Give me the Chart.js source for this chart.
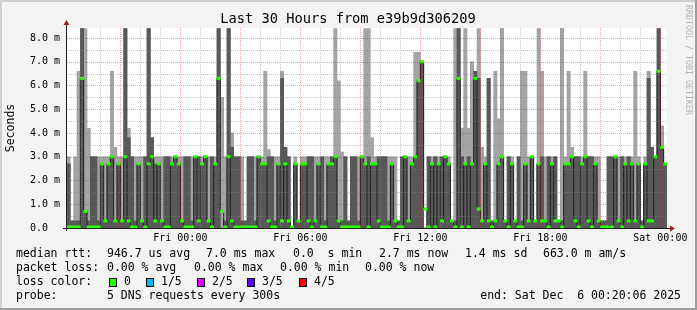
<!DOCTYPE html>
<html>
<head>
<meta charset="utf-8">
<title>Last 30 Hours from e39b9d306209</title>
<script src="https://cdn.jsdelivr.net/npm/chart.js@4.4.0/dist/chart.umd.min.js"></script>
<style>
  html, body { margin: 0; padding: 0; background: #f3f3f3; }
  #chart { display: block; }
</style>
</head>
<body>
<canvas id="chart" width="697" height="310"></canvas>
<script>
// one slot = 10 minutes, first slot starts Thu 18:20 (minutes after Thu 18:00)
const slotStart = 20;
const slotStep = 10;

// smoke top (slowest ping), inner band top, median -- all in ms
const pingMax = [
  3.0, 0.3, 3.0, 6.6, 8.4, 8.4, 4.2, 3.0, 3.0, 3.0,
  3.0, 3.0, 3.0, 6.6, 3.4, 3.0, 3.0, 8.4, 4.2, 3.0,
  3.0, 3.0, 3.0, 3.0, 8.4, 3.8, 3.0, 3.0, 3.0, 3.0,
  3.0, 3.0, 3.0, 3.0, 3.0, 3.0, 3.0, 3.0, 3.0, 3.0,
  3.0, 3.0, 3.0, 3.0, 3.0, 8.4, 5.5, 3.0, 8.4, 4.0,
  3.0, 3.0, 3.0, 0.3, 3.0, 3.0, 3.0, 3.0, 3.0, 6.6,
  3.3, 3.0, 3.0, 3.0, 6.6, 3.4, 3.0, 0.0, 3.0, 0.3,
  3.0, 3.0, 3.0, 3.0, 3.0, 3.0, 3.0, 3.0, 3.0, 3.0,
  8.4, 6.2, 3.2, 3.0, 0.3, 3.0, 3.0, 3.0, 3.0, 8.4,
  8.4, 3.8, 3.0, 3.0, 3.0, 3.0, 3.0, 3.0, 3.0, 0.3,
  3.0, 3.0, 3.0, 3.0, 7.4, 7.4, 7.0, 0.0, 3.0, 3.0,
  3.0, 3.0, 3.0, 3.0, 3.0, 0.3, 8.4, 8.4, 4.2, 8.4,
  4.2, 7.0, 6.6, 8.4, 3.4, 3.0, 6.3, 0.3, 6.6, 4.6,
  8.4, 0.3, 3.0, 3.0, 0.3, 3.0, 6.6, 6.6, 3.0, 3.0,
  0.3, 8.4, 6.6, 3.0, 3.0, 3.0, 3.0, 0.3, 8.4, 3.0,
  6.6, 3.4, 3.0, 3.0, 3.0, 6.6, 3.0, 3.0, 3.0, 3.0,
  0.3, 0.3, 3.0, 3.0, 3.0, 3.0, 3.0, 3.0, 3.0, 3.0,
  6.6, 3.0, 0.3, 3.0, 6.6, 3.4, 3.0, 8.4, 4.3, 2.7
];

const pingUpper = [
  2.7, 0.3, 0.3, 0.3, 8.4, 0.7, 0.3, 3.0, 3.0, 0.3,
  2.7, 0.3, 2.7, 3.0, 0.3, 2.7, 0.3, 8.4, 3.8, 3.0,
  0.3, 2.7, 0.3, 3.0, 8.4, 3.8, 2.7, 2.7, 0.3, 3.0,
  3.0, 2.7, 3.0, 2.7, 0.3, 3.0, 3.0, 0.3, 3.0, 3.0,
  2.7, 3.0, 0.3, 3.0, 2.7, 8.4, 0.0, 0.3, 8.4, 3.4,
  3.0, 3.0, 0.3, 0.3, 3.0, 3.0, 0.3, 3.0, 2.7, 2.7,
  3.0, 3.0, 0.3, 2.7, 6.3, 3.4, 3.0, 0.0, 2.7, 0.3,
  2.7, 2.7, 3.0, 3.0, 0.3, 2.7, 3.0, 0.3, 2.7, 3.0,
  3.0, 0.3, 0.3, 3.0, 0.3, 3.0, 3.0, 0.3, 3.0, 2.7,
  3.0, 2.7, 2.7, 3.0, 3.0, 3.0, 0.3, 2.7, 0.3, 0.3,
  3.0, 3.0, 0.3, 2.7, 3.0, 6.2, 7.0, 0.0, 3.0, 2.7,
  3.0, 2.7, 3.0, 3.0, 2.7, 0.3, 0.3, 8.4, 3.0, 2.7,
  3.0, 2.7, 6.6, 6.3, 0.3, 2.7, 6.3, 0.3, 0.3, 2.7,
  3.0, 0.3, 3.0, 2.7, 0.3, 3.0, 0.3, 2.7, 0.3, 3.0,
  0.3, 2.7, 3.0, 0.3, 3.0, 2.7, 3.0, 0.3, 0.3, 2.7,
  2.7, 3.0, 3.0, 3.0, 2.7, 3.0, 3.0, 3.0, 2.7, 0.3,
  0.3, 0.3, 3.0, 3.0, 3.0, 0.3, 3.0, 2.7, 3.0, 2.7,
  0.3, 2.7, 0.3, 2.7, 6.3, 3.4, 3.0, 8.4, 3.4, 2.7
];

const pingMedian = [
  0.04, 0.04, 0.04, 0.04, 6.3, 0.7, 0.04, 0.04, 0.04, 0.04,
  2.7, 0.3, 2.7, 3.0, 0.3, 2.7, 0.3, 3.0, 0.3, 0.04,
  0.04, 2.7, 0.3, 0.04, 2.7, 3.0, 0.3, 2.7, 0.3, 0.04,
  0.04, 2.7, 3.0, 2.7, 0.3, 0.04, 0.04, 0.04, 3.0, 0.3,
  2.7, 3.0, 0.3, 0.04, 2.7, 6.3, 0.7, 0.04, 3.0, 0.3,
  0.04, 0.04, 0.04, 0.04, 0.04, 0.04, 0.04, 3.0, 2.7, 2.7,
  0.3, 0.04, 0.04, 2.7, 0.3, 2.7, 0.3, 0.04, 2.7, 0.3,
  2.7, 2.7, 0.3, 0.04, 0.3, 2.7, 0.04, 0.04, 2.7, 2.7,
  3.0, 0.3, 0.04, 0.04, 0.04, 0.04, 0.04, 0.04, 3.0, 2.7,
  0.04, 2.7, 2.7, 0.3, 0.04, 0.04, 0.04, 2.7, 0.3, 0.04,
  0.04, 3.0, 0.3, 2.7, 3.0, 6.2, 7.0, 0.8, 0.04, 2.7,
  0.04, 2.7, 0.3, 3.0, 2.7, 0.3, 0.04, 6.3, 0.04, 2.7,
  0.04, 2.7, 6.3, 0.8, 0.3, 2.7, 0.3, 0.04, 0.3, 2.7,
  3.0, 0.3, 0.04, 2.7, 0.3, 0.04, 0.04, 2.7, 0.3, 3.0,
  0.3, 2.7, 0.3, 0.3, 0.04, 2.7, 0.3, 0.3, 0.04, 2.7,
  2.7, 3.0, 0.3, 0.04, 2.7, 3.0, 0.3, 0.04, 2.7, 0.3,
  0.04, 0.04, 0.04, 0.04, 3.0, 0.3, 0.04, 2.7, 0.3, 2.7,
  0.3, 2.7, 0.04, 2.7, 0.3, 0.3, 3.0, 6.6, 3.4, 2.7
];

const timeTickMinutes = [360, 720, 1080, 1440, 1800];
const timeTickLabels = ["Fri 00:00", "Fri 06:00", "Fri 12:00", "Fri 18:00", "Sat 00:00"];
const rttTicks = [0, 1, 2, 3, 4, 5, 6, 7, 8];

const rttStats = ["946.7 us avg", "7.0 ms max", "0.0  s min", "2.7 ms now", "1.4 ms sd", "663.0 m am/s"];
const rttStatX = [107, 206, 293, 379, 465, 543];
const lossStats = ["0.00 % avg", "0.00 % max", "0.00 % min", "0.00 % now"];
const lossStatX = [107, 194, 280, 365];
const lossLabels = ["0", "1/5", "2/5", "3/5", "4/5"];
const lossColors = ["#26ff00", "#00b8ff", "#e000ff", "#5e00ff", "#ff0000"];
const lossBoxX = [109, 146, 197, 247, 299];

const FONT = "'DejaVu Sans Mono', monospace";
const slotX = pingMax.map((v, i) => slotStart + slotStep * i + slotStep / 2);

const rrdFrame = {
  id: "rrdFrame",
  beforeDraw(chart) {
    const { ctx, chartArea: a, width, height } = chart;
    ctx.save();
    ctx.fillStyle = "#f3f3f3";
    ctx.fillRect(0, 0, width, height);
    ctx.fillStyle = "#cfcfcf";
    ctx.fillRect(0, 0, width, 2);
    ctx.fillRect(0, 0, 2, height);
    ctx.fillStyle = "#9e9e9e";
    ctx.fillRect(0, height - 2, width, 2);
    ctx.fillRect(width - 2, 0, 2, height);
    ctx.fillStyle = "#ffffff";
    ctx.fillRect(a.left, a.top, a.right - a.left, a.bottom - a.top);
    ctx.restore();
  },
  afterDatasetsDraw(chart) {
    // dotted grid on top of the smoke, like rrdtool
    const { ctx, chartArea: a } = chart;
    const xs = chart.scales.x, ys = chart.scales.y;
    ctx.save();
    ctx.lineWidth = 1;
    ctx.setLineDash([1, 1]);
    const line = (x1, y1, x2, y2, c) => {
      ctx.strokeStyle = c;
      ctx.beginPath();
      ctx.moveTo(x1, y1);
      ctx.lineTo(x2, y2);
      ctx.stroke();
    };
    const minor = "rgba(130,130,130,0.45)";
    const major = "rgba(255,0,0,0.38)";
    for (let m = 60; m <= 1800; m += 60) {
      const px = Math.round(xs.getPixelForValue(m)) + 0.5;
      line(px, a.top, px, a.bottom, m % 180 === 0 ? major : minor);
    }
    for (let k = 1; k <= 16; k++) {
      const v = k / 2;
      const py = Math.round(ys.getPixelForValue(v)) + 0.5;
      line(a.left, py, a.right, py, k % 2 === 0 ? major : minor);
    }
    ctx.restore();
  },
  afterDraw(chart) {
    const { ctx, chartArea: a } = chart;
    ctx.save();
    // axes
    ctx.strokeStyle = "#202020";
    ctx.lineWidth = 1;
    ctx.beginPath();
    ctx.moveTo(a.left - 0.5, a.bottom + 3);
    ctx.lineTo(a.left - 0.5, a.top - 4);
    ctx.moveTo(a.left - 4, a.bottom + 0.5);
    ctx.lineTo(a.right + 3, a.bottom + 0.5);
    ctx.stroke();
    ctx.fillStyle = "#9b1b1b";
    ctx.beginPath();
    ctx.moveTo(a.left - 0.5, a.top - 8);
    ctx.lineTo(a.left - 3.5, a.top - 3);
    ctx.lineTo(a.left + 2.5, a.top - 3);
    ctx.closePath();
    ctx.fill();
    ctx.beginPath();
    ctx.moveTo(a.right + 8, a.bottom + 0.5);
    ctx.lineTo(a.right + 3, a.bottom - 2.5);
    ctx.lineTo(a.right + 3, a.bottom + 3.5);
    ctx.closePath();
    ctx.fill();

    // title
    ctx.fillStyle = "#000";
    ctx.textBaseline = "middle";
    ctx.textAlign = "center";
    ctx.font = "13.7px " + FONT;
    ctx.fillText("Last 30 Hours from e39b9d306209", 348, 19);

    // vertical axis title
    ctx.save();
    ctx.translate(11, 128);
    ctx.rotate(-Math.PI / 2);
    ctx.font = "11.5px " + FONT;
    ctx.fillText("Seconds", 0, 0);
    ctx.restore();

    // watermark
    ctx.save();
    ctx.translate(688, 5);
    ctx.rotate(Math.PI / 2);
    ctx.textAlign = "left";
    ctx.fillStyle = "#b4b4b4";
    ctx.font = "8.3px " + FONT;
    ctx.fillText("RRDTOOL / TOBI OETIKER", 0, 0);
    ctx.restore();

    // legend
    ctx.textAlign = "left";
    ctx.font = "11.5px " + FONT;
    ctx.fillStyle = "#000";
    ctx.fillText("median rtt:", 16, 254);
    rttStats.forEach((t, i) => ctx.fillText(t, rttStatX[i], 254));
    ctx.fillText("packet loss:", 16, 268);
    lossStats.forEach((t, i) => ctx.fillText(t, lossStatX[i], 268));
    ctx.fillText("loss color:", 16, 282);
    lossLabels.forEach((t, i) => {
      ctx.fillStyle = lossColors[i];
      ctx.fillRect(lossBoxX[i], 278, 8, 9);
      ctx.strokeStyle = "#000";
      ctx.strokeRect(lossBoxX[i] + 0.5, 278.5, 7, 8);
      ctx.fillStyle = "#000";
      ctx.fillText(t, lossBoxX[i] + 15, 282);
    });
    ctx.fillText("probe:", 16, 296);
    ctx.fillText("5 DNS requests every 300s", 107, 296);
    ctx.textAlign = "right";
    ctx.fillText("end: Sat Dec  6 00:20:06 2025", 681, 296);
    ctx.restore();
  }
};

new Chart(document.getElementById("chart"), {
  type: "bar",
  data: {
    datasets: [
      {
        label: "median",
        data: slotX.map((x, i) => ({ x: x, y: [pingMedian[i] - 0.05, pingMedian[i] + 0.05] })),
        backgroundColor: "#26ff00",
        order: 1,
      },
      {
        type: "line",
        label: "median step",
        data: slotX.map((x, i) => ({ x: x, y: pingMedian[i] })),
        borderColor: "#1e1e1e",
        borderWidth: 1,
        pointRadius: 0,
        stepped: "middle",
        order: 2,
      },
      {
        label: "inner smoke",
        data: slotX.map((x, i) => ({ x: x, y: [0, pingUpper[i]] })),
        backgroundColor: "#585858",
        order: 3,
      },
      {
        label: "outer smoke",
        data: slotX.map((x, i) => ({ x: x, y: [0, pingMax[i]] })),
        backgroundColor: "#a4a4a4",
        order: 4,
      },
    ],
  },
  options: {
    responsive: false,
    animation: false,
    devicePixelRatio: 1,
    layout: { padding: { top: 28, right: 30, bottom: 0, left: 0 } },
    datasets: {
      bar: { barPercentage: 1, categoryPercentage: 1, grouped: false, borderWidth: 0 },
    },
    plugins: {
      legend: { display: false },
      tooltip: { enabled: false },
    },
    scales: {
      x: {
        type: "linear",
        min: 20,
        max: 1820,
        offset: false,
        grid: { display: false, offset: false, drawTicks: false, tickLength: 0 },
        border: { display: false },
        afterBuildTicks: (s) => {
          s.ticks = timeTickMinutes.map((v) => ({ value: v }));
        },
        afterFit: (s) => {
          s.height = 82;
        },
        ticks: {
          autoSkip: false,
          maxRotation: 0,
          padding: 4,
          color: "#000",
          font: { family: FONT, size: 10 },
          callback: (v) => {
            const k = timeTickMinutes.indexOf(v);
            return k >= 0 ? timeTickLabels[k] : "";
          },
        },
      },
      y: {
        min: 0,
        max: 8.42,
        grid: { display: false, drawTicks: false, tickLength: 0 },
        border: { display: false },
        afterBuildTicks: (s) => {
          s.ticks = rttTicks.map((v) => ({ value: v }));
        },
        afterFit: (s) => {
          s.width = 67;
        },
        ticks: {
          padding: 7,
          color: "#000",
          font: { family: FONT, size: 10 },
          callback: (v) => (v === 0 ? "0.0  " : v.toFixed(1) + " m"),
        },
      },
    },
  },
  plugins: [rrdFrame],
});
</script>
</body>
</html>
